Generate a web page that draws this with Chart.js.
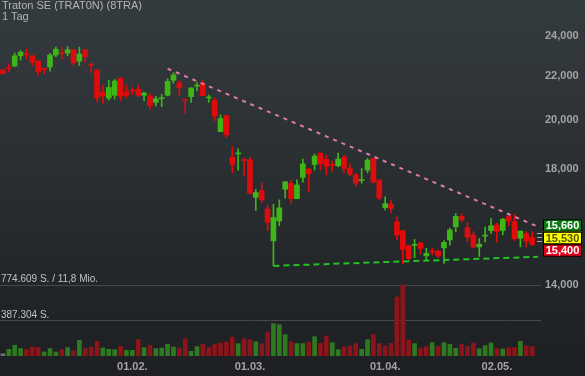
<!DOCTYPE html>
<html lang="de">
<head>
<meta charset="UTF-8">
<title>Traton SE (TRAT0N) (8TRA)</title>
<script src="https://cdn.jsdelivr.net/npm/chart.js"></script>
<style>
  html, body { margin: 0; padding: 0; }
  body {
    width: 585px; height: 376px; overflow: hidden;
    background: linear-gradient(#343b3e, #1d1f22);
    font-family: "Liberation Sans", Arial, sans-serif;
  }
  #wrap { position: relative; width: 585px; height: 376px; }
  canvas { position: absolute; left: 0; top: 0; }
  /* title top left */
  #title { position: absolute; left: 2px; top: 0; font-size: 11px; line-height: 11px; color: #b4b4b4; }
</style>
</head>
<body>
<div id="wrap">
  <canvas id="chart" width="585" height="376"></canvas>
  <div id="title">Traton SE (TRAT0N) (8TRA)<br>1 Tag</div>
</div>
<script>
// trading days (last entry is an empty slot on the right)
const dates = ['30.12.',
  '03.01.','04.01.','05.01.','06.01.','07.01.','10.01.','11.01.','12.01.','13.01.','14.01.','17.01.',
  '18.01.','19.01.','20.01.','21.01.','24.01.','25.01.','26.01.','27.01.','28.01.','31.01.',
  '01.02.','02.02.','03.02.','04.02.','07.02.','08.02.','09.02.','10.02.','11.02.','14.02.','15.02.',
  '16.02.','17.02.','18.02.','21.02.','22.02.','23.02.','24.02.','25.02.','28.02.',
  '01.03.','02.03.','03.03.','04.03.','07.03.','08.03.','09.03.','10.03.','11.03.','14.03.','15.03.',
  '16.03.','17.03.','18.03.','21.03.','22.03.','23.03.','24.03.','25.03.','28.03.','29.03.','30.03.','31.03.',
  '01.04.','04.04.','05.04.','06.04.','07.04.','08.04.','11.04.','12.04.','13.04.','14.04.','19.04.',
  '20.04.','21.04.','22.04.','25.04.','26.04.','27.04.','28.04.','29.04.',
  '02.05.','03.05.','04.05.','05.05.','06.05.','09.05.','10.05.','11.05.'];

const open = [22290, 22380, 22480, 22980, 23050, 22980, 22720, 22330, 22430, 23020,
  23120, 23120, 23280, 22720, 23280, 22550, 22290, 21250, 20970, 21100,
  21900, 21250, 21310, 21380, 21100, 21070, 20780, 20950, 21100, 21800,
  21690, 20900, 21040, 21520, 21660, 20980, 20860, 19510, 20190, 18460,
  18590, 18350, 18350, 16920, 17170, 16500, 15400, 16080, 17220, 17440,
  16870, 17670, 17990, 18170, 18620, 18370, 18150, 18120, 18450, 18010,
  17760, 17550, 17950, 18410, 17570, 16550, 16670, 16050, 15740, 15240,
  15250, 15330, 14910, 15050, 15060, 15170, 15430, 15880, 16240, 15850,
  15600, 15200, 15560, 15750, 15940, 15750, 16240, 16060, 15490, 15640, 15520];
const high = [22320, 22600, 23110, 23240, 23310, 23000, 22740, 22340, 23110, 23420,
  23420, 23450, 23300, 23420, 23300, 22640, 22300, 21560, 21800, 21830,
  21900, 21570, 21460, 21570, 21250, 21190, 21070, 21140, 21870, 22160,
  21780, 20920, 21440, 21690, 21780, 21110, 20980, 20220, 20220, 18880,
  18790, 18410, 18450, 17220, 17450, 16640, 16670, 16830, 17500, 17560,
  17570, 18380, 18000, 18580, 18620, 18540, 18300, 18620, 18540, 18200,
  17830, 18010, 18410, 18410, 17570, 16940, 16800, 16220, 15770, 15260,
  15450, 15350, 15160, 15160, 15100, 15410, 15830, 16340, 16340, 16020,
  15710, 15480, 15870, 16170, 16000, 16170, 16310, 16310, 15730, 15710, 15710];
const low = [22080, 22200, 22450, 22770, 22820, 22500, 22040, 22100, 22230, 22940,
  22820, 22980, 22520, 22500, 22650, 22160, 20800, 20730, 20880, 20930,
  20860, 20980, 21130, 21050, 20860, 20480, 20620, 20590, 21070, 21660,
  21070, 20290, 20780, 21310, 21080, 20780, 19970, 19510, 19270, 17840,
  17950, 17710, 17040, 16440, 16740, 15740, 14590, 15910, 16890, 16710,
  16870, 17490, 17130, 17950, 17950, 17760, 17910, 18070, 17840, 17720,
  17320, 17450, 17840, 17450, 16830, 16470, 16350, 15430, 14650, 14780,
  14850, 14970, 14770, 14940, 14850, 14670, 15260, 15700, 16040, 15370,
  15160, 14890, 15370, 15650, 15370, 15600, 15910, 15410, 15200, 15200, 15250];
const close = [22110, 22360, 22980, 23160, 23030, 22670, 22200, 22310, 23020, 23310,
  23100, 23280, 22630, 23070, 22930, 22520, 20990, 21060, 21460, 21760,
  21060, 21100, 21290, 21100, 21200, 20630, 20940, 20980, 21740, 22050,
  21440, 20880, 21440, 21540, 21080, 21010, 20170, 20060, 19370, 18170,
  18620, 18320, 17070, 17100, 16830, 16030, 16200, 16540, 17500, 16870,
  17380, 18190, 17810, 18500, 18200, 18090, 18130, 18380, 18010, 17790,
  17450, 17580, 18340, 17490, 16890, 16690, 16520, 15600, 15120, 14820,
  15270, 15150, 14990, 15030, 14910, 15350, 15770, 16240, 16120, 15520,
  15200, 15290, 15590, 15910, 15720, 16140, 16080, 15470, 15730, 15390, 15280];
const volume = [25000, 73000, 117000, 81000, 70000, 98000, 92000, 44000, 81000, 44000,
  70000, 92000, 55000, 171000, 81000, 98000, 160000, 87000, 73000, 70000,
  106000, 62000, 62000, 179000, 92000, 117000, 81000, 87000, 128000, 98000,
  87000, 190000, 51000, 102000, 127000, 91000, 127000, 142000, 153000, 207000,
  135000, 189000, 178000, 156000, 135000, 262000, 353000, 342000, 233000, 156000,
  135000, 135000, 149000, 211000, 138000, 218000, 145000, 69000, 98000, 109000,
  135000, 73000, 178000, 233000, 135000, 109000, 138000, 644000, 774609, 175000,
  135000, 80000, 102000, 145000, 105000, 145000, 127000, 84000, 127000, 105000,
  142000, 80000, 113000, 142000, 80000, 76000, 91000, 91000, 160000, 109000, 102000];

const xTickLabels = ['01.02.', '01.03.', '01.04.', '02.05.'];
const priceTicks = [14000, 18000, 20000, 22000, 24000];
const volumeTicks = [387304, 774609];
const volumeTickLabels = ['387.304 S.', '774.609 S. / 11,8 Mio.'];
const resistanceLine = [['09.02.', 22350], ['11.05.', 15880]];
const supportLine = [['07.03.', 14590], ['11.05.', 14880]];
const priceTags = [15660, 15530, 15400];

const FONT = '"Liberation Sans", Arial, sans-serif';
const UP = '#3fb618', DOWN = '#e00c0c';
const candleColors = open.map((o, i) => close[i] >= o ? UP : DOWN);
const volColors = volume.map((v, i) => i === 0 ? '#6f7275' : (close[i] >= close[i - 1] ? '#2e7a1f' : '#8a151a'));

// volume labels drawn over the grid lines on the left
const volumeLabelPlugin = {
    id: 'volumeLabels',
    afterDatasetsDraw(chart) {
        const ctx = chart.ctx, vol = chart.scales.vol;
        ctx.save();
        ctx.font = '10px ' + FONT;
        ctx.fillStyle = '#c2c2c2';
        ctx.textAlign = 'left';
        ctx.textBaseline = 'alphabetic';
        volumeTicks.forEach((v, i) => ctx.fillText(volumeTickLabels[i], 1, vol.getPixelForValue(v) - 3));
        ctx.restore();
    }
};

// coloured price boxes on the right axis
const priceTagPlugin = {
    id: 'priceTags',
    afterDraw(chart) {
        const ctx = chart.ctx, area = chart.chartArea, y = chart.scales.y;
        const styles = [['#0b7a13', '#ffffff'], ['#ffff00', '#55550a'], ['#e2001a', '#ffffff']];
        const h = 12.5, w = 39, x = area.right + 2;
        const mid = y.getPixelForValue(priceTags[1]) + 1;
        ctx.save();
        ctx.strokeStyle = '#a8a8a8';
        ctx.lineWidth = 1;
        priceTags.forEach(v => {
            const py = Math.round(y.getPixelForValue(v)) + 0.5;
            ctx.beginPath();
            ctx.moveTo(area.right - 4, py);
            ctx.lineTo(area.right + 1, py);
            ctx.stroke();
        });
        ctx.font = 'bold 11px ' + FONT;
        ctx.textAlign = 'center';
        ctx.textBaseline = 'middle';
        priceTags.forEach((v, i) => {
            const top = mid - h / 2 + (i - 1) * h;
            ctx.fillStyle = styles[i][0];
            ctx.fillRect(x, top, w, h);
            ctx.strokeStyle = '#000';
            ctx.strokeRect(x + 0.5, top + 0.5, w - 1, h - 1);
            ctx.fillStyle = styles[i][1];
            ctx.fillText(v.toLocaleString('en-US'), x + w / 2, top + h / 2 + 0.5);
        });
        ctx.restore();
    }
};

const ctx = document.getElementById('chart').getContext('2d');
new Chart(ctx, {
    type: 'bar',
    data: {
        labels: dates,
        datasets: [
            {
                type: 'line', label: 'Widerstand', yAxisID: 'y', order: 0,
                data: resistanceLine.map(([d, p]) => ({ x: d, y: p })),
                borderColor: '#e07aa6', borderWidth: 2, borderDash: [4, 5],
                pointRadius: 0, fill: false, tension: 0
            },
            {
                type: 'line', label: 'Unterstützung', yAxisID: 'y', order: 0,
                data: supportLine.map(([d, p]) => ({ x: d, y: p })),
                borderColor: '#22c322', borderWidth: 2, borderDash: [6, 4],
                pointRadius: 0, fill: false, tension: 0
            },
            {
                label: 'Körper', yAxisID: 'y', order: 1, grouped: false,
                data: open.map((o, i) => [o, close[i]]),
                backgroundColor: candleColors, borderWidth: 0,
                barThickness: 5, minBarLength: 1
            },
            {
                label: 'Docht', yAxisID: 'y', order: 2, grouped: false,
                data: low.map((l, i) => [l, high[i]]),
                backgroundColor: candleColors, borderWidth: 0,
                barThickness: 1
            },
            {
                label: 'Volumen', yAxisID: 'vol', order: 3, grouped: false,
                data: volume,
                backgroundColor: volColors, borderWidth: 0,
                barThickness: 4
            }
        ]
    },
    options: {
        responsive: false,
        animation: false,
        layout: { padding: 0 },
        plugins: { legend: { display: false }, tooltip: { enabled: false } },
        scales: {
            x: {
                type: 'category', offset: true,
                grid: { display: false, drawTicks: false }, border: { display: false },
                ticks: {
                    autoSkip: false, maxRotation: 0, padding: 4,
                    color: '#a3a3a3', font: { family: FONT, size: 11, weight: 'bold' },
                    callback: (v, i) => xTickLabels.includes(dates[i]) ? dates[i] : ''
                },
                afterFit(s) { s.height = 20; s.paddingLeft = 0; s.paddingRight = 0; }
            },
            y: {
                type: 'logarithmic', position: 'right', min: 12006, max: 25930,
                grid: { display: false, drawTicks: false }, border: { display: false },
                afterBuildTicks(s) { s.ticks = priceTicks.map(v => ({ value: v })); },
                ticks: {
                    autoSkip: false, padding: 4,
                    color: '#a3a3a3', font: { family: FONT, size: 11, weight: 'bold' },
                    callback: v => v.toLocaleString('en-US')
                },
                afterFit(s) { s.width = 44; s.paddingTop = 0; s.paddingBottom = 0; }
            },
            vol: {
                type: 'linear', position: 'left', min: 0, max: 774609 * 356 / 71,
                border: { display: false },
                grid: { color: '#44494d', lineWidth: 1, drawTicks: false },
                afterBuildTicks(s) { s.ticks = volumeTicks.map(v => ({ value: v })); },
                ticks: { display: false },
                afterFit(s) { s.width = 0; s.paddingTop = 0; s.paddingBottom = 0; }
            }
        }
    },
    plugins: [volumeLabelPlugin, priceTagPlugin]
});
</script>
</body>
</html>
